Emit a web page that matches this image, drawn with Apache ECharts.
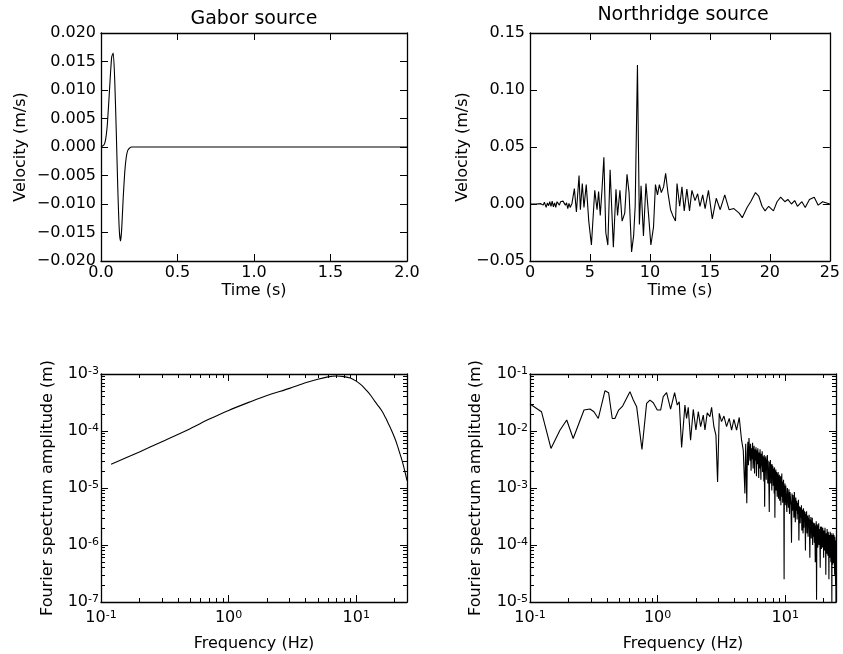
<!DOCTYPE html>
<html>
<head>
<meta charset="utf-8">
<script src="https://cdn.jsdelivr.net/npm/echarts@6/dist/echarts.min.js"></script>
<style>
  html, body { margin: 0; padding: 0; background: #fff; }
  #chart { width: 843px; height: 654px; }
</style>
</head>
<body>
<div id="chart"></div>
<script>
// Gabor source, velocity trace
var gaborTime = [0, 0.02, 0.03, 0.04, 0.05, 0.06, 0.07, 0.08, 0.09, 0.1, 0.11, 0.12, 0.128, 0.135, 0.145, 0.155, 0.165, 0.175, 0.19, 0.2, 2.0];
var gaborVel = [0, 0.0004, 0.0013, 0.0035, 0.0075, 0.012, 0.0158, 0.0165, 0.0115, 0.0025, -0.0075, -0.0148, -0.0165, -0.0145, -0.009, -0.0045, -0.0018, -0.0006, -0.0001, 0, 0];

// Northridge source, velocity trace
var northTime = [0, 0.5, 0.9, 1.1, 1.2, 1.35, 1.45, 1.55, 1.65, 1.75, 1.85, 1.95, 2.05, 2.15, 2.25, 2.35, 2.45, 2.55, 2.65, 2.75, 2.85, 2.95, 3.05, 3.15, 3.25, 3.35, 3.5, 3.6,
  3.7, 3.87, 4.09, 4.2, 4.36, 4.5, 4.69, 4.9, 5.12, 5.4, 5.59, 5.72, 5.86, 6.0, 6.16, 6.32, 6.49, 6.68, 6.95, 7.17,
  7.3, 7.5, 7.68, 7.9, 8.09, 8.26, 8.47, 8.64, 8.77, 8.96, 9.12, 9.26, 9.46, 9.67, 9.89, 10.08, 10.3, 10.46, 10.63, 10.79,
  10.95, 11.14, 11.31, 11.5, 11.72, 11.9, 12.13, 12.26, 12.48, 12.67, 12.86, 13.08, 13.3, 13.5, 13.76, 13.98, 14.17, 14.4, 14.6, 14.88,
  15.2, 15.53, 15.86, 16.24, 16.6, 17.0, 17.44, 17.7, 18.1, 18.4, 18.8, 19.07, 19.35, 19.6, 19.9, 20.3, 20.6, 20.9, 21.25, 21.5,
  21.8, 22.07, 22.3, 22.67, 22.95, 23.3, 23.7, 24.03, 24.4, 25];
var northVel = [0, 0, 0.0003, -0.001, 0.0015, -0.003, 0.001, -0.0015, 0.002, -0.002, 0.0025, -0.0025, 0.001, -0.003, 0.002, 0.003, -0.001, 0.002, 0.0035, 0.0025, 0.001, -0.001, 0.001, -0.004, 0.0005, -0.003, 0.0005, -0.001,
  0.0135, -0.007, 0.025, -0.005, 0.018, -0.003, 0.017, -0.015, -0.036, 0.012, -0.005, 0.011, -0.01, 0.012, 0.041, -0.025, -0.036, 0.030, -0.038, 0.013,
  -0.01, 0.012, -0.015, -0.008, 0.026, 0.01, -0.042, -0.028, -0.002, 0.122, -0.018, 0.016, -0.028, 0.018, -0.01, -0.036, -0.02, 0.017, 0.008, 0.017,
  0.01, 0.015, 0.027, 0.01, -0.005, -0.01, -0.015, 0.018, -0.002, 0.015, -0.006, 0.013, -0.006, 0.012, 0.003, 0.009, -0.002, 0.008, -0.004, 0.012,
  -0.013, 0.005, -0.005, 0.008, -0.005, -0.004, -0.008, -0.012, -0.003, 0.002, 0.01, 0.007, -0.002, -0.006, -0.002, -0.006, 0.002, 0.006, 0.002, 0.004,
  0, 0.003, -0.002, 0.002, -0.003, 0.004, 0.006, -0.001, 0.002, 0];

// Gabor source, Fourier amplitude spectrum
var gaborFreq = [0.12, 0.2, 0.3, 0.5, 0.7, 1, 1.5, 2, 3, 4, 5, 6, 7, 8, 9, 10, 11, 12, 13, 14, 15, 16, 17, 18, 19, 20, 21, 22, 23, 24, 25];
var gaborAmp = [2.6e-5, 4.3e-5, 6.5e-5, 1.1e-4, 1.6e-4, 2.3e-4, 3.3e-4, 4.2e-4, 5.6e-4, 7.0e-4, 8.1e-4, 8.9e-4, 9.2e-4, 9.0e-4, 8.5e-4, 7.5e-4,
  6.4e-4, 5.2e-4, 4.2e-4, 3.3e-4, 2.7e-4, 2.2e-4, 1.7e-4, 1.3e-4, 1.0e-4, 7.6e-5, 5.6e-5, 4.0e-5, 2.9e-5, 2.0e-5, 1.35e-5];

// Northridge source, Fourier amplitude spectrum (0.1 - 4.9 Hz)
var northFreqLow = [0.1, 0.123, 0.146, 0.172, 0.194, 0.218, 0.265, 0.295, 0.317, 0.343, 0.387, 0.413, 0.441, 0.463, 0.495, 0.532, 0.607, 0.645, 0.685, 0.754,
  0.82, 0.871, 0.925, 0.994, 1.056, 1.107, 1.176, 1.264, 1.359, 1.426, 1.478, 1.542, 1.637, 1.687, 1.738, 1.813, 1.903, 1.996, 2.083, 2.173,
  2.28, 2.349, 2.449, 2.57, 2.649, 2.761, 2.864, 2.951, 3.041, 3.171, 3.309, 3.47, 3.641, 3.8, 3.963, 4.157, 4.362, 4.55, 4.69, 4.831, 4.9];
var northAmpLow = [0.0297, 0.0218, 0.00494, 0.0104, 0.0156, 0.0074, 0.0233, 0.0243, 0.0218, 0.0166, 0.051, 0.047, 0.0166, 0.0166, 0.0233, 0.0274, 0.049, 0.0349, 0.0267, 0.00474,
  0.0305, 0.0349, 0.0313, 0.0233, 0.0233, 0.040, 0.047, 0.0243, 0.047, 0.0285, 0.0327, 0.00515, 0.0285, 0.0166, 0.026, 0.0069, 0.0239, 0.0104, 0.0218, 0.0119,
  0.019, 0.0104, 0.0209, 0.0178, 0.026, 0.0119, 0.0085, 0.00128, 0.0204, 0.0146, 0.0183, 0.0119, 0.0166, 0.0104, 0.016, 0.0104, 0.0173, 0.0069, 0.0046, 0.0008, 0.006];

// 5 - 10 Hz
var northFreqMid = [5.00, 5.05, 5.10, 5.15, 5.20, 5.25, 5.30, 5.35, 5.40, 5.45, 5.50, 5.55, 5.60, 5.65, 5.70, 5.75, 5.80, 5.85, 5.90, 5.95,
  6.00, 6.05, 6.10, 6.15, 6.20, 6.25, 6.30, 6.35, 6.40, 6.45, 6.50, 6.55, 6.60, 6.65, 6.70, 6.75, 6.80, 6.85, 6.90, 6.95,
  7.00, 7.05, 7.10, 7.15, 7.20, 7.25, 7.30, 7.35, 7.40, 7.45, 7.50, 7.55, 7.60, 7.65, 7.70, 7.75, 7.80, 7.85, 7.90, 7.95,
  8.00, 8.05, 8.10, 8.15, 8.20, 8.25, 8.30, 8.35, 8.40, 8.45, 8.50, 8.55, 8.60, 8.65, 8.70, 8.75, 8.80, 8.85, 8.90, 8.95,
  9.00, 9.05, 9.10, 9.15, 9.20, 9.25, 9.30, 9.35, 9.40, 9.45, 9.50, 9.55, 9.60, 9.65, 9.70, 9.75, 9.80, 9.85, 9.90, 9.95];
var northAmpMid = [5.4e-4, 4.0e-3, 6.5e-3, 2.5e-3, 7.5e-3, 4.5e-3, 3.0e-3, 6.0e-3, 2.0e-3, 5.0e-3,
  3.2e-3, 6.2e-3, 2.2e-3, 4.4e-3, 5.5e-3, 1.8e-3, 4.8e-3, 3.0e-3, 5.2e-3, 1.6e-3,
  4.6e-3, 2.6e-3, 5.0e-3, 3.4e-3, 1.5e-3, 4.2e-3, 2.2e-3, 4.8e-3, 2.8e-3, 1.4e-3,
  4.0e-3, 2.4e-3, 4.4e-3, 1.9e-3, 3.6e-3, 2.8e-3, 1.3e-3, 3.8e-3, 4.7e-4, 3.4e-3,
  2.0e-3, 3.6e-3, 1.4e-3, 3.2e-3, 2.4e-3, 3.8e-3, 1.2e-3, 3.0e-3, 2.0e-3, 1.1e-3,
  3.8e-4, 2.9e-3, 1.8e-3, 3.1e-3, 1.2e-3, 2.6e-3, 1.9e-3, 9.0e-4, 2.6e-3, 1.5e-3,
  2.4e-3, 1.1e-3, 2.2e-3, 1.6e-3, 8.0e-4, 2.3e-3, 3.0e-4, 2.0e-3, 1.2e-3, 2.1e-3,
  9.0e-4, 1.9e-3, 1.3e-3, 7.0e-4, 1.8e-3, 1.1e-3, 1.9e-3, 6.5e-4, 1.6e-3, 1.0e-3,
  1.7e-3, 6.0e-4, 1.5e-3, 1.0e-3, 1.6e-3, 5.0e-4, 1.4e-3, 8.0e-4, 1.8e-3, 7.0e-4,
  1.3e-3, 5.5e-4, 1.2e-3, 9.0e-4, 1.4e-3, 6.0e-4, 2.5e-5, 1.1e-3, 5.0e-4, 1.2e-3];

// 10 - 25 Hz
var northFreqHigh = [10.0, 10.1, 10.2, 10.3, 10.4, 10.5, 10.6, 10.7, 10.8, 10.9, 11.0, 11.1, 11.2, 11.3, 11.4, 11.5, 11.6, 11.7, 11.8, 11.9,
  12.0, 12.1, 12.2, 12.3, 12.4, 12.5, 12.6, 12.7, 12.8, 12.9, 13.0, 13.1, 13.2, 13.3, 13.4, 13.5, 13.6, 13.7, 13.8, 13.9,
  14.0, 14.1, 14.2, 14.3, 14.4, 14.5, 14.6, 14.7, 14.8, 14.9, 15.0, 15.1, 15.2, 15.3, 15.4, 15.5, 15.6, 15.7, 15.8, 15.9,
  16.0, 16.1, 16.2, 16.3, 16.4, 16.5, 16.6, 16.7, 16.8, 16.9, 17.0, 17.1, 17.2, 17.3, 17.4, 17.5, 17.6, 17.7, 17.8, 17.9,
  18.0, 18.1, 18.2, 18.3, 18.4, 18.5, 18.6, 18.7, 18.8, 18.9, 19.0, 19.1, 19.2, 19.3, 19.4, 19.5, 19.6, 19.7, 19.8, 19.9,
  20.0, 20.1, 20.2, 20.3, 20.4, 20.5, 20.6, 20.7, 20.8, 20.9, 21.0, 21.1, 21.2, 21.3, 21.4, 21.5, 21.6, 21.7, 21.8, 21.9,
  22.0, 22.1, 22.2, 22.3, 22.4, 22.5, 22.6, 22.7, 22.8, 22.9, 23.0, 23.1, 23.2, 23.3, 23.4, 23.5, 23.6, 23.7, 23.8, 23.9,
  24.0, 24.1, 24.2, 24.3, 24.4, 24.5, 24.6, 24.7, 24.8, 24.9, 25.0];
var northAmpHigh = [5.0e-4, 1.1e-3, 6.5e-4, 3.8e-4, 1.0e-3, 7.0e-4, 4.5e-4, 9.5e-4, 3.5e-4, 8.5e-4,
  9.0e-4, 5.0e-4, 1.1e-4, 8.0e-4, 4.0e-4, 7.5e-4, 5.5e-4, 3.0e-4, 8.5e-4, 4.2e-4,
  2.5e-4, 6.8e-4, 4.0e-4, 6.0e-4, 2.8e-4, 5.5e-4, 3.5e-4, 6.2e-4, 1.2e-4, 4.8e-4,
  5.2e-4, 2.4e-4, 4.6e-4, 3.0e-4, 5.0e-4, 1.8e-4, 4.2e-4, 3.2e-4, 1.6e-4, 4.4e-4,
  2.0e-4, 4.0e-4, 2.6e-4, 3.8e-4, 8.0e-5, 3.5e-4, 2.2e-4, 3.9e-4, 1.6e-4, 3.0e-4,
  3.3e-4, 1.4e-4, 3.0e-4, 2.0e-4, 3.4e-4, 1.5e-4, 6.0e-5, 2.8e-4, 1.9e-4, 3.1e-4,
  1.3e-4, 2.7e-4, 1.8e-4, 3.0e-4, 1.0e-4, 2.5e-4, 2.7e-4, 1.4e-4, 2.4e-4, 1.1e-4,
  2.4e-4, 1.6e-4, 5.0e-5, 2.2e-4, 1.5e-4, 2.6e-4, 1.1e-5, 2.1e-4, 2.3e-4, 1.2e-4,
  9.0e-5, 2.2e-4, 1.4e-4, 2.4e-4, 1.0e-4, 1.9e-4, 2.0e-4, 1.1e-4, 4.0e-5, 2.1e-4,
  1.9e-4, 1.2e-4, 8.5e-5, 2.1e-4, 1.3e-4, 1.8e-4, 9.0e-5, 2.0e-4, 1.1e-4, 1.7e-4,
  6.0e-5, 1.8e-4, 1.7e-4, 9.0e-5, 8.0e-5, 2.0e-4, 1.9e-4, 1.0e-4, 3.0e-5, 1.6e-4,
  1.6e-4, 1.0e-4, 7.0e-5, 1.9e-4, 1.8e-4, 8.0e-5, 6.5e-5, 1.7e-4, 1.5e-4, 9.0e-5,
  2.5e-5, 1.5e-4, 1.6e-4, 7.0e-5, 6.0e-5, 1.7e-4, 1.4e-4, 8.0e-5, 5.0e-5, 1.6e-4,
  1.5e-4, 7.0e-5, 1.0e-5, 1.5e-4, 1.3e-4, 6.0e-5, 4.5e-5, 1.6e-4, 1.4e-4, 7.0e-5,
  5.0e-5, 1.5e-4, 1.2e-4, 6.0e-5, 3.0e-5, 1.4e-4, 1.1e-4, 5.0e-5, 2.0e-5, 1.2e-4,
  1.0e-5];

var northFreq = northFreqLow.concat(northFreqMid, northFreqHigh);
var northAmp = northAmpLow.concat(northAmpMid, northAmpHigh);

// tick values for the log axes
var freqMajor = [0.1, 1, 10];
var gaborAmpMajor = [1e-7, 1e-6, 1e-5, 1e-4, 1e-3];
var northAmpMajor = [1e-5, 1e-4, 1e-3, 1e-2, 1e-1];

function minorTicks(lo, hi) {
  var out = [];
  for (var e = lo; e < hi; e++) {
    for (var m = 2; m <= 9; m++) {
      out.push(+(m * Math.pow(10, e)).toPrecision(3));
    }
  }
  return out;
}
var freqMinor = minorTicks(-1, 1).concat([20]);
var gaborAmpMinor = minorTicks(-7, -3);
var northAmpMinor = minorTicks(-5, -1);

function zip(a, b) {
  return a.map(function (v, i) { return [v, b[i]]; });
}

var FONT = 'DejaVu Sans';
var BLACK = '#000';
var labelStyle = { color: BLACK, fontFamily: FONT, fontSize: 16 };
var nameStyle = { color: BLACK, fontFamily: FONT, fontSize: 16 };

function fmtLin(digits) {
  return function (v) {
    var s = Math.abs(v) < 1e-12 ? (0).toFixed(digits) : v.toFixed(digits);
    return s.replace('-', '\u2212');
  };
}
function fmtLog(v) {
  var e = Math.round(Math.log10(v));
  return '{b|10}{s|' + (e < 0 ? '-' : '') + Math.abs(e) + '}';
}
var logRich = {
  b: { color: BLACK, fontFamily: FONT, fontSize: 16 },
  s: { color: BLACK, fontFamily: FONT, fontSize: 11, verticalAlign: 'top', lineHeight: 12 }
};

// one axis; primary ones carry the labels and the name
function axis(o) {
  var a = {
    type: o.type, gridIndex: o.grid, position: o.pos,
    min: o.min, max: o.max,
    silent: true,
    splitLine: { show: false },
    axisLine: { show: o.line !== false, onZero: false, lineStyle: { color: BLACK, width: 1.3 } },
    axisTick: { show: true, inside: true, length: o.tickLen || 7, lineStyle: { color: BLACK, width: 1 } },
    axisLabel: { show: false }
  };
  if (o.type === 'log') a.logBase = 10;
  if (o.interval) a.interval = o.interval;
  if (o.ticks) a.axisTick.customValues = o.ticks;
  if (o.fmt) {
    a.axisLabel = { show: true, formatter: o.fmt, margin: o.margin || 5 };
    Object.assign(a.axisLabel, labelStyle);
    if (o.type === 'log') {
      a.axisLabel.rich = logRich;
      a.axisLabel.customValues = o.ticks;
    }
  }
  if (o.name) {
    a.name = o.name;
    a.nameLocation = 'middle';
    a.nameGap = o.nameGap;
    a.nameTextStyle = nameStyle;
    if (o.pos === 'left') a.nameRotate = 90;
  }
  return a;
}

var grids = [
  { left: 101, top: 33, width: 306, height: 228 },
  { left: 530, top: 33, width: 306, height: 228 },
  { left: 101, top: 374, width: 306, height: 228 },
  { left: 530, top: 374, width: 306, height: 228 }
];

var xAxes = [];
var yAxes = [];
var series = [];

function lineSeries(xi, yi, data, smooth, width) {
  return {
    type: 'line', xAxisIndex: xi, yAxisIndex: yi, data: data,
    showSymbol: false, smooth: smooth || false, animation: false, silent: true,
    lineStyle: { color: BLACK, width: width || 1.1 }
  };
}

function addLinear(g, xr, yr, xName, yName, yGap, data, smooth) {
  var xi = xAxes.length, yi = yAxes.length;
  xAxes.push(axis({ type: 'value', grid: g, pos: 'bottom', min: xr[0], max: xr[1], interval: xr[2], fmt: xr[3], margin: 4, name: xName, nameGap: 22 }));
  xAxes.push(axis({ type: 'value', grid: g, pos: 'top', min: xr[0], max: xr[1], interval: xr[2] }));
  yAxes.push(axis({ type: 'value', grid: g, pos: 'left', min: yr[0], max: yr[1], interval: yr[2], fmt: yr[3], margin: 5, name: yName, nameGap: yGap }));
  yAxes.push(axis({ type: 'value', grid: g, pos: 'right', min: yr[0], max: yr[1], interval: yr[2] }));
  series.push(lineSeries(xi, yi, data, smooth));
}

function addLog(g, yMin, yMax, yMajor, yMinor, yGap, data, smooth) {
  var xi = xAxes.length, yi = yAxes.length;
  xAxes.push(axis({ type: 'log', grid: g, pos: 'bottom', min: 0.1, max: 25, ticks: freqMajor, fmt: fmtLog, margin: 8, name: 'Frequency (Hz)', nameGap: 34 }));
  xAxes.push(axis({ type: 'log', grid: g, pos: 'bottom', min: 0.1, max: 25, ticks: freqMinor, tickLen: 4, line: false }));
  xAxes.push(axis({ type: 'log', grid: g, pos: 'top', min: 0.1, max: 25, ticks: freqMajor }));
  xAxes.push(axis({ type: 'log', grid: g, pos: 'top', min: 0.1, max: 25, ticks: freqMinor, tickLen: 4, line: false }));
  yAxes.push(axis({ type: 'log', grid: g, pos: 'left', min: yMin, max: yMax, ticks: yMajor, fmt: fmtLog, margin: 2, name: 'Fourier spectrum amplitude (m)', nameGap: yGap }));
  yAxes.push(axis({ type: 'log', grid: g, pos: 'left', min: yMin, max: yMax, ticks: yMinor, tickLen: 4, line: false }));
  yAxes.push(axis({ type: 'log', grid: g, pos: 'right', min: yMin, max: yMax, ticks: yMajor }));
  yAxes.push(axis({ type: 'log', grid: g, pos: 'right', min: yMin, max: yMax, ticks: yMinor, tickLen: 4, line: false }));
  series.push(lineSeries(xi, yi, data, smooth));
}

addLinear(0, [0, 2, 0.5, fmtLin(1)], [-0.02, 0.02, 0.005, fmtLin(3)], 'Time (s)', 'Velocity (m/s)', 72, zip(gaborTime, gaborVel), 0.2);
addLinear(1, [0, 25, 5, fmtLin(0)], [-0.05, 0.15, 0.05, fmtLin(2)], 'Time (s)', 'Velocity (m/s)', 59, zip(northTime, northVel));
addLog(2, 1e-7, 1e-3, gaborAmpMajor, gaborAmpMinor, 45, zip(gaborFreq, gaborAmp), 0.3);
addLog(3, 1e-5, 1e-1, northAmpMajor, northAmpMinor, 46, zip(northFreq, northAmp));

var chart = echarts.init(document.getElementById('chart'));
chart.setOption({
  backgroundColor: '#fff',
  animation: false,
  grid: grids,
  xAxis: xAxes,
  yAxis: yAxes,
  series: series,
  graphic: [
    { type: 'text', x: 254, y: 19, style: { text: 'Gabor source', fill: BLACK, font: '19px "DejaVu Sans"', textAlign: 'center', textVerticalAlign: 'middle' } },
    { type: 'text', x: 683, y: 15, style: { text: 'Northridge source', fill: BLACK, font: '19px "DejaVu Sans"', textAlign: 'center', textVerticalAlign: 'middle' } }
  ]
});
</script>
</body>
</html>
